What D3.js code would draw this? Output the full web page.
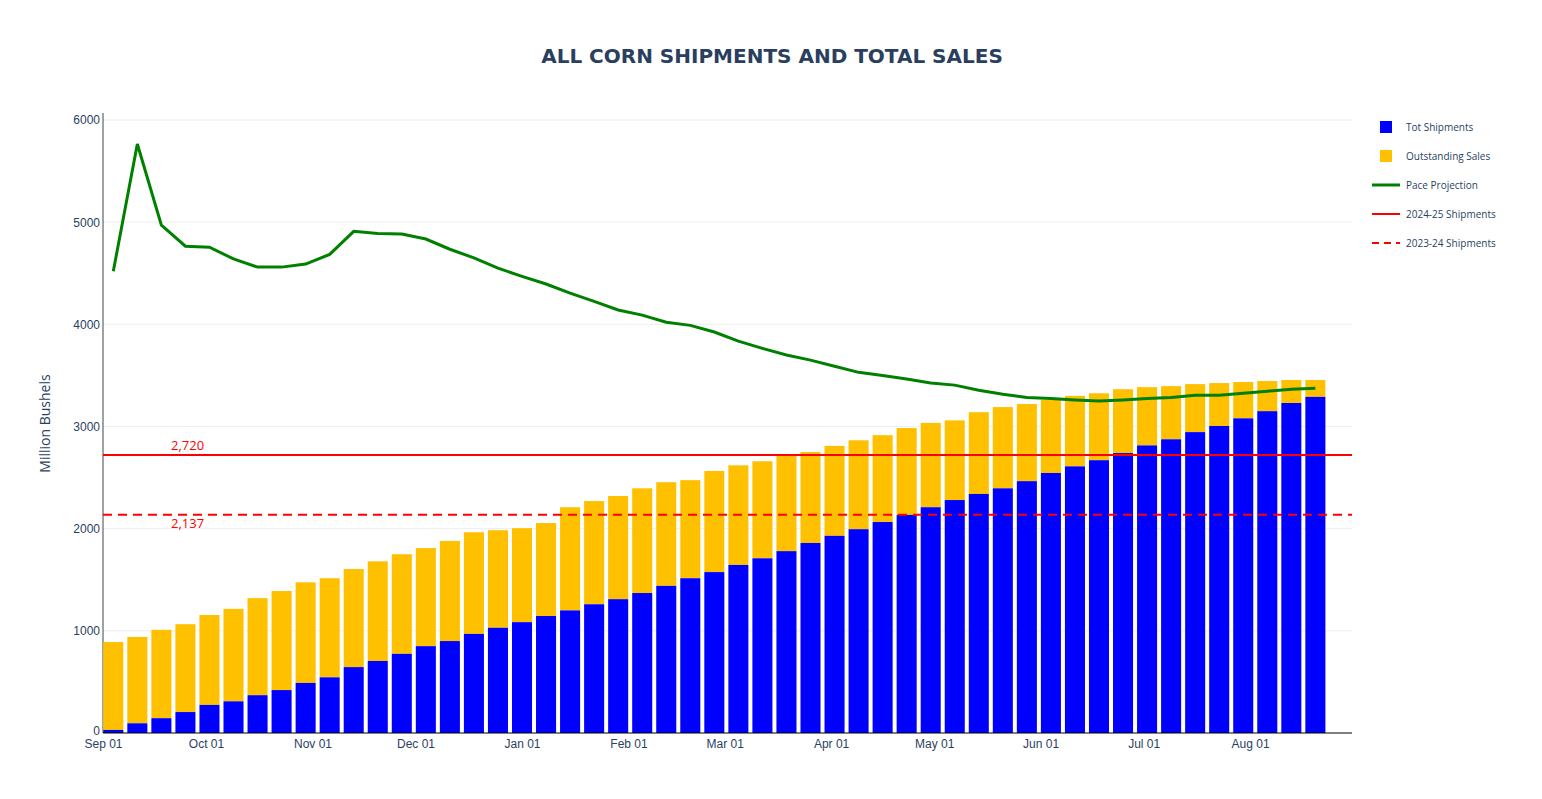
<!DOCTYPE html>
<html><head><meta charset="utf-8">
<script src="https://cdn.jsdelivr.net/npm/d3@7"></script>
<style>body{margin:0;background:#fff;font-family:"Open Sans",Arial,sans-serif}</style>
</head><body><svg id="c" width="1542" height="799"></svg>
<script>
const firstWeek = new Date(2024, 8, 4);
const shipments = [30,95,145,205,275,310,370,420,490,545,645,705,775,850,900,970,1030,1085,1145,1200,1260,1310,1370,1440,1515,1575,1645,1710,1780,1860,1930,1995,2065,2135,2210,2280,2340,2395,2465,2545,2610,2670,2740,2815,2875,2945,3005,3080,3150,3230,3290];
const totalSales = [890,940,1010,1065,1155,1215,1320,1390,1475,1515,1605,1680,1750,1810,1880,1965,1985,2005,2055,2210,2270,2320,2395,2455,2475,2565,2620,2660,2720,2750,2810,2865,2915,2985,3035,3060,3140,3190,3220,3260,3300,3325,3365,3385,3395,3415,3425,3435,3445,3455,3455];
const pace = [4520,5765,4970,4765,4755,4640,4560,4560,4590,4685,4910,4890,4885,4835,4735,4650,4550,4470,4395,4305,4225,4140,4090,4020,3990,3925,3835,3765,3700,3650,3590,3530,3500,3465,3425,3405,3355,3315,3285,3275,3260,3250,3260,3275,3285,3305,3305,3325,3345,3365,3375];
const ship2425 = 2720, ship2324 = 2137;
const yTicks = [0,1000,2000,3000,4000,5000,6000];
const legendItems = [
  {name:"Tot Shipments", type:"box", color:"#0000ff"},
  {name:"Outstanding Sales", type:"box", color:"#ffc000"},
  {name:"Pace Projection", type:"line", color:"green"},
  {name:"2024-25 Shipments", type:"line", color:"red"},
  {name:"2023-24 Shipments", type:"dash", color:"red"}
];
const weeks = shipments.map((d, i) => d3.timeDay.offset(firstWeek, i * 7));

const svg = d3.select("#c");
const L = 103, R = 1352, T = 120, B = 733;
const x = d3.scaleTime().domain([new Date(2024, 8, 1), new Date(2025, 7, 30, 16)]).range([L, R]);
const y = d3.scaleLinear().domain([0, 6000]).range([B, T]);
const bw = x(new Date(2024, 8, 8)) - x(new Date(2024, 8, 1));

svg.append("text").attr("x", 772).attr("y", 63).attr("text-anchor", "middle")
  .attr("font-size", 20).attr("font-weight", "bold").attr("fill", "#2a3f5f")
  .attr("font-family", "Verdana, 'DejaVu Sans', sans-serif").text("ALL CORN SHIPMENTS AND TOTAL SALES");

// grid
svg.append("g").selectAll("line").data(yTicks.slice(1)).join("line")
  .attr("x1", L).attr("x2", R).attr("y1", d => y(d)).attr("y2", d => y(d))
  .attr("stroke", "#eee");

const yAxis = svg.append("g").attr("transform", `translate(${L},0)`)
  .call(d3.axisLeft(y).tickValues(yTicks).tickFormat(d3.format("d")).tickSize(0).tickPadding(3));
yAxis.select(".domain").attr("stroke", "#444").attr("d", `M0,${B}V${T - 7}`);
yAxis.selectAll("text").attr("font-size", 12).attr("fill", "#2a3f5f");
yAxis.selectAll(".tick").filter(d => d === 0).select("text").attr("dy", "0.1em");

svg.append("text").attr("transform", `translate(50,${(T + B) / 2 - 3}) rotate(-90)`)
  .attr("text-anchor", "middle").attr("font-size", 14).attr("fill", "#2a3f5f").text("Million Bushels");

// bars
const gap = 4;
svg.append("g").selectAll("rect").data(totalSales).join("rect")
  .attr("x", (d, i) => x(weeks[i]) - bw / 2 + gap / 2).attr("width", bw - gap)
  .attr("y", d => y(d)).attr("height", (d, i) => y(shipments[i]) - y(d)).attr("fill", "#ffc000");
svg.append("g").selectAll("rect").data(shipments).join("rect")
  .attr("x", (d, i) => x(weeks[i]) - bw / 2 + gap / 2).attr("width", bw - gap)
  .attr("y", d => y(d)).attr("height", d => B - y(d)).attr("fill", "#0000ff");

const xAxis = svg.append("g").attr("transform", `translate(0,${B})`)
  .call(d3.axisBottom(x).ticks(d3.timeMonth.every(1)).tickFormat(d3.timeFormat("%b %d")).tickSize(0).tickPadding(6));
xAxis.select(".domain").attr("stroke", "#000").attr("d", `M${L},0H${R}`);
xAxis.selectAll(".tick").filter(d => d > new Date(2025, 7, 15)).remove();
xAxis.selectAll("text").attr("font-size", 12).attr("fill", "#2a3f5f");

// reference lines
svg.append("line").attr("x1", L).attr("x2", R).attr("y1", y(ship2425)).attr("y2", y(ship2425))
  .attr("stroke", "red").attr("stroke-width", 2);
svg.append("line").attr("x1", L).attr("x2", R).attr("y1", y(ship2324)).attr("y2", y(ship2324))
  .attr("stroke", "red").attr("stroke-width", 2).attr("stroke-dasharray", "9,6");
svg.append("text").attr("x", 171).attr("y", y(ship2425) - 5).attr("font-size", 13).attr("fill", "red").text(d3.format(",")(ship2425));
svg.append("text").attr("x", 171).attr("y", y(ship2324) + 13).attr("font-size", 13).attr("fill", "red").text(d3.format(",")(ship2324));

// pace line
svg.append("path").datum(pace)
  .attr("d", d3.line().x((d, i) => x(weeks[i])).y(d => y(d)))
  .attr("fill", "none").attr("stroke", "green").attr("stroke-width", 3);

// legend
const lg = svg.append("g").attr("transform", "translate(1372,127)");
legendItems.forEach((it, i) => {
  const g = lg.append("g").attr("transform", `translate(0,${i * 29})`);
  if (it.type === "box") g.append("rect").attr("x", 8).attr("y", -6).attr("width", 12).attr("height", 12).attr("fill", it.color);
  else g.append("line").attr("x1", 0).attr("x2", 28).attr("stroke", it.color).attr("stroke-width", it.type === "line" && i === 2 ? 3 : 2)
    .attr("stroke-dasharray", it.type === "dash" ? "7,5" : null);
  g.append("text").attr("x", 34).attr("y", 4).attr("font-size", 10).attr("fill", "#2a3f5f").text(it.name);
});
</script></body></html>
